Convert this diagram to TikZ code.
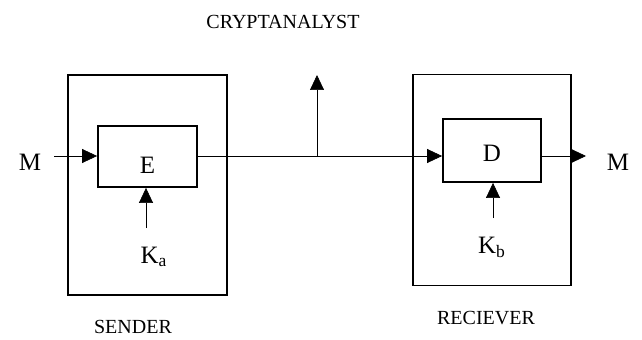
\documentclass[tikz,border=0pt]{standalone}
\usepackage{fontspec}
\setmainfont{Liberation Serif}
\usetikzlibrary{arrows.meta,positioning}
\tikzset{
x=0.6pt, y=-0.6pt,
>={Triangle[length=9pt,width=8.4pt]},
line width=1pt,
box/.style={draw, line width=1.1pt, inner sep=0pt},
big/.style={font=\fontsize{15}{17}\selectfont},
tag/.style={font=\fontsize{12}{14}\selectfont},
}

\begin{document}
\begin{tikzpicture}
    \useasboundingbox (0,0) rectangle (642,339);
    % outer boxes
    \node[box, minimum width=95pt, minimum height=132pt] (sender) at (147.5,185) {};
    \node[box, minimum width=95pt, minimum height=126.5pt] (reciever) at (492,180) {};
    % inner boxes
    \node[box, minimum width=59.4pt, minimum height=36.6pt,
          label={[big, yshift=-5pt]center:E}] (E) at (147.5,156.5) {};
    \node[box, minimum width=58.8pt, minimum height=37.8pt,
          label={[big, yshift=-2pt]center:D}] (D) at (492,150.5) {};
    \node[big] (min) at (30,162) {M};
    \node[big] (mout) at (618,162) {M};
    \node[big] (ka) at (154,257) {K\textsubscript{a}};
    \node[big] (kb) at (492,247) {K\textsubscript{b}};
    \node[tag] (crypt) at (283,22) {CRYPTANALYST};
    \node[tag] (snd) at (133,327) {SENDER};
    \node[tag] (rcv) at (486,318) {RECIEVER};
    \coordinate (in) at (54,156);
    \coordinate (out) at (586,156);
    \coordinate (tap) at (317,156);
    \coordinate (tapup) at (317,75);
    \coordinate (kain) at (146,228);
    \coordinate (kbin) at (493,218);
    % message path
    \draw[->] (in) -- (E.west |- in);
    \draw[->] (E.east |- in) -- (D.west |- in);
    \draw[->] (D.east |- in) -- (out);
    \draw[->] (tap) -- (tapup);
    % keys
    \draw[->] (kain) -- (kain |- E.south);
    \draw[->] (kbin) -- (kbin |- D.south);
\end{tikzpicture}
\end{document}
